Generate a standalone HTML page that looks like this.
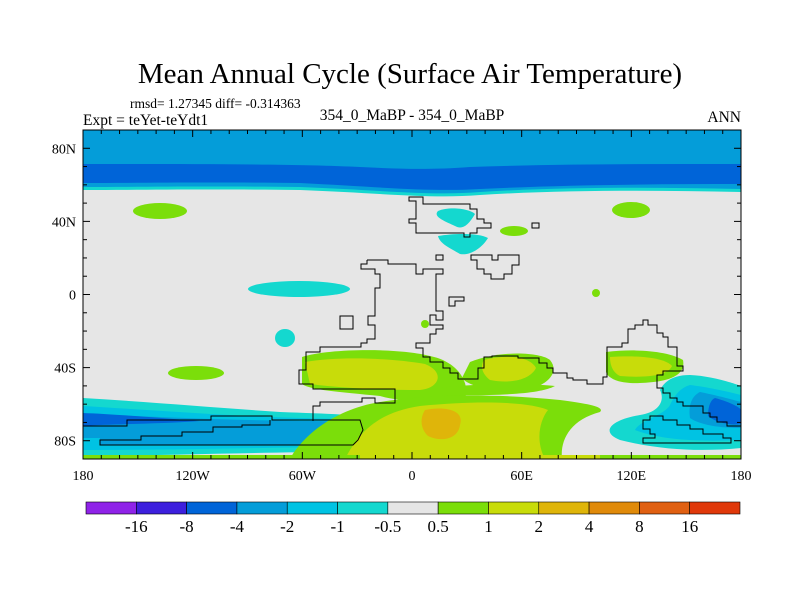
<!DOCTYPE html>
<html><head><meta charset="utf-8"><style>
body{margin:0;background:#fff;}
svg text{font-family:"Liberation Serif",serif;fill:#000;}
</style></head><body>
<svg width="800" height="600" viewBox="0 0 800 600">
<defs><clipPath id="pc"><rect x="83" y="130" width="658" height="329"/></clipPath></defs>
<text x="410" y="83" font-size="29" text-anchor="middle">Mean Annual Cycle (Surface Air Temperature)</text>
<text x="130" y="108" font-size="13.5">rmsd= 1.27345 diff= -0.314363</text>
<text x="83" y="125" font-size="15.5">Expt = teYet-teYdt1</text>
<text x="412" y="120" font-size="15.5" text-anchor="middle">354_0_MaBP - 354_0_MaBP</text>
<text x="741" y="122" font-size="15.5" text-anchor="end">ANN</text>

<g clip-path="url(#pc)">
<rect x="83" y="130" width="658" height="329" fill="#e6e6e6"/>
<path d="M83,130H741V192C650,190 560,190 480,195C430,199 380,193 300,190C200,189 140,190 83,190Z" fill="#14d8cf"/>
<path d="M83,130H741V189C650,187 560,187 480,192C430,196 380,190 300,187C200,186 140,187 83,187Z" fill="#049dd9"/>
<path d="M83,164C200,164 300,164 360,167C400,169 430,170 470,167C560,164 650,164 741,164V184C650,184 560,185 480,189C430,192 380,187 300,183C200,182 140,183 83,183Z" fill="#0064d8"/>
<ellipse cx="160" cy="211" rx="27" ry="8" fill="#7bde0a"/>
<ellipse cx="631" cy="210" rx="19" ry="8" fill="#7bde0a"/>
<ellipse cx="514" cy="231" rx="14" ry="5" fill="#7bde0a"/>
<path d="M438,211C450,206 470,209 475,214C468,226 462,230 455,226C447,222 432,217 438,211Z" fill="#14d8cf"/>
<path d="M438,236C455,233 480,233 488,238C482,248 470,256 460,254C450,248 440,244 438,236Z" fill="#14d8cf"/>
<ellipse cx="299" cy="289" rx="51" ry="8" fill="#14d8cf"/>
<ellipse cx="285" cy="338" rx="10" ry="9" fill="#14d8cf"/>
<circle cx="425" cy="324" r="4" fill="#7bde0a"/>
<circle cx="596" cy="293" r="4" fill="#7bde0a"/>
<ellipse cx="196" cy="373" rx="28" ry="7" fill="#7bde0a"/>
<path d="M83,398C150,402 220,408 280,412C330,414 360,414 375,420C380,435 370,448 340,452C260,452 150,456 83,456Z" fill="#14d8cf"/>
<path d="M83,406C150,410 230,416 300,418C340,419 365,419 368,425C370,438 360,446 330,447C250,448 150,450 83,450Z" fill="#00c3e3"/>
<path d="M83,414C140,416 220,420 300,421C350,421 362,423 363,430C362,440 355,445 330,445H100V438H83Z" fill="#049dd9"/>
<path d="M83,413C110,414 150,417 200,421C160,424 110,424 83,426Z" fill="#0064d8"/>
<path d="M302,357C330,348 400,348 430,356C460,362 470,385 465,398C430,402 400,402 380,396C340,392 310,390 302,384Z" fill="#7bde0a"/>
<path d="M305,362C340,356 390,358 425,364C445,372 440,388 420,390C380,390 340,388 310,384Z" fill="#c8dc0a"/>
<path d="M470,362C500,350 540,352 550,360C560,372 548,386 525,390C500,392 470,388 462,378Z" fill="#7bde0a"/>
<path d="M484,360C505,354 530,356 536,368C530,380 510,384 490,380C482,374 480,366 484,360Z" fill="#c8dc0a"/>
<path d="M606,352C640,348 670,352 683,360C686,375 670,382 640,383C618,384 608,378 606,372Z" fill="#7bde0a"/>
<path d="M610,357C640,355 665,358 672,366C668,376 645,378 620,376C612,372 610,364 610,357Z" fill="#c8dc0a"/>
<path d="M290,459C300,440 330,410 380,402C420,396 480,392 560,400C590,404 605,407 600,412C570,420 560,440 562,459Z" fill="#7bde0a"/>
<path d="M440,388C470,384 520,382 555,386C540,394 500,396 440,395Z" fill="#7bde0a"/>
<path d="M345,459C360,430 380,412 420,406C480,400 530,402 548,410C540,420 535,440 545,459Z" fill="#c8dc0a"/>
<path d="M425,410C445,406 465,410 460,425C458,440 440,442 428,436C420,428 420,418 425,410Z" fill="#dfb50a"/>
<path d="M690,375C715,376 741,386 741,386V448C700,452 660,450 620,440C600,432 610,420 640,415C660,412 665,400 660,390C665,380 675,375 690,375Z" fill="#14d8cf"/>
<path d="M690,385C715,388 741,395 741,395V440C700,442 660,440 635,430C640,420 665,415 670,405C675,395 680,388 690,385Z" fill="#00c3e3"/>
<path d="M700,392C720,396 741,402 741,402V428C720,428 700,425 690,418C688,405 692,396 700,392Z" fill="#049dd9"/>
<path d="M715,398C730,402 741,408 741,410V424C730,426 715,422 708,416C708,408 710,400 715,398Z" fill="#0064d8"/>
<path d="M83,455H741V459H83Z" fill="#7bde0a"/>
<path d="M360,455H600V459H360Z" fill="#c8dc0a"/>
</g>

<g fill="none" stroke="#000" stroke-width="1">
<path d="M409,197H423V204H470V209H477V219H484V223H491V228H477V233H470V237H464V233H416V223H409V219H416V201H409Z"/>
<path d="M532,223H539V228H532Z M436,255H443V260H436Z"/>
<path d="M471,255H492V260H498V255H519V265H512V274H504V279H491V274H484V269H477V260H471Z"/>
<path d="M449,297H464V301H455V306H449Z M340,316H353V329H340Z"/>
<path d="M367,260H388V264H416V274H423V269H443V274H436V311H443V320H436V315H430V325H443V329H436V334H430V343H416V348H423V357H430V362H443V368H450V373H458V379H478V368H484V357H492V356H518V358H539V363H547V368H553V373H567V378H573V380H587V384H600V384H603V377H607V347H622V343H628V329H635V325H643V320H648V325H657V333H663V337H668V347H677V366H683V371H663V375H657V388H663V393H670V398H677V402H683V406H703V413H710V417H717V422H727V426H741"/>
<path d="M367,260V264H361V269H375V274H380V288H375V316H368V325H375V339H367V343H361V347H320V352H306V370H299V384H313V389H395V403H375V398H362V402H320V406H313V421"/>
<path d="M83,426H127V420H211V416H272V420H360L363,430L358,440L353,445H100V440H141V436H182V432H213V427H242V425H270V420"/>
<path d="M643,420H650V416H663V420H677V425H690V429H703V434H723V438H731V443H643V438H655V434H650V429H643Z"/>
</g>

<g id="frame"><rect x="83" y="130" width="658" height="329" fill="none" stroke="#000" stroke-width="1"/></g>
<g id="ticks" stroke="#000" stroke-width="1"></g>
<g id="labels" font-size="14"></g>
<g id="cbar"></g>
</svg>
<script>
const xTickLabels=["180","120W","60W","0","60E","120E","180"];
const xTickLons=[-180,-120,-60,0,60,120,180];
const yTickLabels=["80N","40N","0","40S","80S"];
const yTickLats=[80,40,0,-40,-80];
const cbarLevels=["-16","-8","-4","-2","-1","-0.5","0.5","1","2","4","8","16"];
const cbarColors=["#8f23e8","#3d1fdd","#0064d8","#049dd9","#00c3e3","#14d8cf","#e6e6e6","#7bde0a","#c8dc0a","#dfb50a","#e08a0a","#e06012","#e0380a"];
const NS="http://www.w3.org/2000/svg";
const X0=83,X1=741,Y0=130,Y1=459;
const xs=l=>X0+(l+180)/360*(X1-X0);
const ys=l=>Y0+(90-l)/180*(Y1-Y0);
const tk=document.getElementById('ticks'),lb=document.getElementById('labels'),cb=document.getElementById('cbar');
function ln(g,x1,y1,x2,y2){const e=document.createElementNS(NS,'line');e.setAttribute('x1',x1);e.setAttribute('y1',y1);e.setAttribute('x2',x2);e.setAttribute('y2',y2);g.appendChild(e);return e;}
for(let l=-180;l<=180;l+=10){const x=xs(l),len=(l%60===0)?7:4;
ln(tk,x,Y1,x,Y1-len);ln(tk,x,Y0,x,Y0+len);}
for(let l=-90;l<=90;l+=10){const y=ys(l),len=(l%40===0)?7:4;
ln(tk,X0,y,X0+len,y);ln(tk,X1,y,X1-len,y);}
xTickLabels.forEach((t,i)=>{const e=document.createElementNS(NS,'text');
e.setAttribute('x',xs(xTickLons[i]));e.setAttribute('y',480);e.setAttribute('text-anchor','middle');e.textContent=t;


lb.appendChild(e);});
yTickLabels.forEach((t,i)=>{const e=document.createElementNS(NS,'text');
e.setAttribute('x',76);e.setAttribute('y',ys(yTickLats[i])+5);e.setAttribute('text-anchor','end');e.textContent=t;


lb.appendChild(e);});
const CB0=86,CB1=740,CBY=502,CBH=12,w=(CB1-CB0)/cbarColors.length;
cbarColors.forEach((c,i)=>{const r=document.createElementNS(NS,'rect');
r.setAttribute('x',CB0+i*w);r.setAttribute('y',CBY);r.setAttribute('width',w);r.setAttribute('height',CBH);
r.setAttribute('fill',c);r.setAttribute('stroke','#000');r.setAttribute('stroke-width','0.6');


cb.appendChild(r);});
cbarLevels.forEach((t,i)=>{const e=document.createElementNS(NS,'text');
e.setAttribute('x',CB0+(i+1)*w);e.setAttribute('y',532);e.setAttribute('text-anchor','middle');e.setAttribute('font-size','17');e.textContent=t;


cb.appendChild(e);});
</script>
</body></html>
